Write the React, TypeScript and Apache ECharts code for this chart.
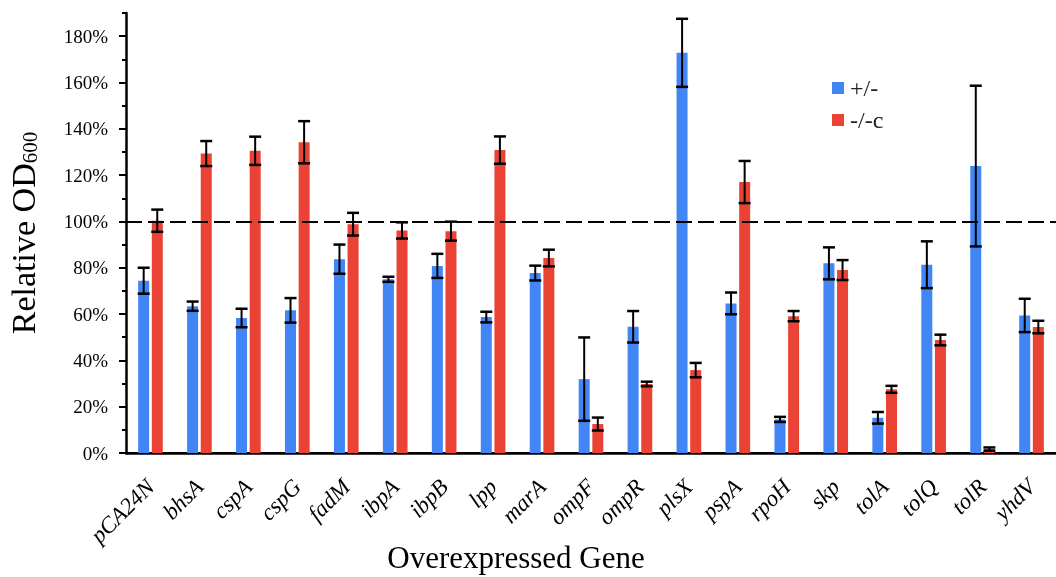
import React, { useEffect, useRef } from "react";
import * as echarts from "echarts";

const categories = ["pCA24N", "bhsA", "cspA", "cspG", "fadM", "ibpA", "ibpB", "lpp", "marA", "ompF", "ompR", "plsX", "pspA", "rpoH", "skp", "tolA", "tolQ", "tolR", "yhdV"];
const plusMinus = [74.4, 63.4, 58.3, 61.6, 83.7, 75.0, 80.8, 58.7, 77.7, 31.9, 54.5, 172.8, 64.6, 14.5, 81.9, 15.2, 81.3, 123.9, 59.4];
const plusMinusErr = [5.6, 2.0, 4.0, 5.3, 6.3, 1.1, 5.2, 2.3, 3.2, 18.0, 6.8, 14.7, 4.7, 1.1, 6.9, 2.5, 10.1, 34.7, 7.2];
const minusC = [100.3, 129.3, 130.5, 134.2, 98.8, 96.1, 95.8, 130.8, 84.2, 12.5, 29.8, 35.8, 117.0, 59.1, 79.0, 27.5, 48.8, 1.7, 54.4];
const minusCErr = [4.8, 5.4, 6.1, 9.1, 4.9, 3.5, 4.1, 5.9, 3.6, 2.8, 1.0, 3.1, 9.1, 2.2, 4.3, 1.5, 2.3, 0.7, 2.7];
const seriesNames = ["+/-", "-/-c"];
const referenceLine = 100;

const FONT = "Liberation Serif";
const BLUE = "#4285F4";
const RED = "#EA4335";
const BAR_W = 11;
const OFFSET = 6.8;

export default function App() {
  const ref = useRef<HTMLDivElement>(null);
  useEffect(() => {
    if (!ref.current) return;
    const chart = echarts.init(ref.current, undefined, { renderer: "svg" });
    const errData: any[] = [];
    plusMinus.forEach((v, i) => errData.push([i, v, plusMinusErr[i], -1]));
    minusC.forEach((v, i) => errData.push([i, v, minusCErr[i], 1]));

    chart.setOption({
      animation: false,
      textStyle: { fontFamily: FONT },
      grid: { left: 126, right: 0, top: 13, bottom: 124, containLabel: false, outerBoundsMode: "none" },
      legend: {
        data: seriesNames,
        orient: "vertical",
        left: 827,
        top: 71,
        itemWidth: 12,
        itemHeight: 12,
        itemGap: 8,
        icon: "rect",
        textStyle: { fontFamily: FONT, fontSize: 24, color: "#222", padding: [0, 0, 0, 1] },
      },
      xAxis: [
        {
          type: "category",
          data: categories,
          axisLine: { lineStyle: { color: "#000", width: 2.5 } },
          axisTick: { show: false },
          axisLabel: {
            rotate: 45,
            margin: 30,
            fontFamily: FONT,
            fontSize: 23,
            fontStyle: "italic",
            color: "#000",
            interval: 0,
          },
          name: "Overexpressed Gene",
          nameLocation: "middle",
          nameGap: 89,
          nameMoveOverlap: false,
          nameTextStyle: { fontFamily: FONT, fontSize: 31, color: "#000", padding: [0, 150, 0, 0] },
        },
        {
          type: "category",
          data: categories,
          position: "top",
          axisLine: { lineStyle: { color: "#000", width: 2 } },
          axisTick: { show: false },
          axisLabel: { show: false },
        },
      ],
      yAxis: [
        {
          type: "value",
          min: 0,
          max: 190,
          interval: 20,
          position: "left",
          axisLine: { show: true, lineStyle: { color: "#000", width: 2.5 } },
          axisTick: { show: true, inside: false, length: 7, lineStyle: { color: "#000", width: 2 } },
          splitLine: { show: false },
          axisLabel: {
            margin: 18,
            fontFamily: FONT,
            fontSize: 19,
            color: "#000",
            showMaxLabel: false,
            formatter: (v: number) => (v > 180 ? "" : v + "%"),
          },
          name: "{a|Relative OD}{b|600}",
          nameLocation: "middle",
          nameGap: 86,
          nameMoveOverlap: false,
          nameTextStyle: {
            color: "#000",
            rich: {
              a: { fontFamily: FONT, fontSize: 34, color: "#000", lineHeight: 34 },
              b: { fontFamily: FONT, fontSize: 21, color: "#000", lineHeight: 21, padding: [19, 0, 0, 0], verticalAlign: "bottom" },
            },
          },
        },
        {
          type: "value",
          min: 0,
          max: 190,
          interval: 10,
          position: "left",
          axisLine: { show: false },
          axisTick: { show: true, inside: false, length: 4, lineStyle: { color: "#000", width: 2 } },
          splitLine: { show: false },
          axisLabel: { show: false },
        },
      ],
      series: [
        {
          name: seriesNames[0],
          type: "bar",
          data: plusMinus,
          barWidth: BAR_W,
          barGap: "24%",
          itemStyle: { color: BLUE },
          z: 2,
          markLine: {
            silent: true,
            symbol: "none",
            label: { show: false },
            lineStyle: { color: "#000", width: 2, type: [16, 6] },
            data: [{ yAxis: referenceLine }],
            z: 5,
          },
        },
        {
          name: seriesNames[1],
          type: "bar",
          data: minusC,
          barWidth: BAR_W,
          barGap: "24%",
          itemStyle: { color: RED },
          z: 2,
        },
        {
          type: "custom",
          data: errData,
          z: 10,
          renderItem: (params: any, api: any) => {
            const idx = api.value(0);
            const v = api.value(1);
            const e = api.value(2);
            const side = api.value(3);
            const top = api.coord([idx, v + e]);
            const bot = api.coord([idx, Math.max(0, v - e)]);
            const x = top[0] + side * OFFSET;
            const cap = 6;
            const style = { stroke: "#000", lineWidth: 2 };
            return {
              type: "group",
              children: [
                { type: "line", shape: { x1: x, y1: top[1], x2: x, y2: bot[1] }, style },
                { type: "line", shape: { x1: x - cap, y1: top[1], x2: x + cap, y2: top[1] }, style: { stroke: "#000", lineWidth: 2.5 } },
                { type: "line", shape: { x1: x - cap, y1: bot[1], x2: x + cap, y2: bot[1] }, style: { stroke: "#000", lineWidth: 2.5 } },
              ],
            };
          },
        },
      ],
    });
    return () => chart.dispose();
  }, []);
  return <div ref={ref} style={{ position: "fixed", left: 0, top: 0, width: 1056, height: 577 }} />;
}
